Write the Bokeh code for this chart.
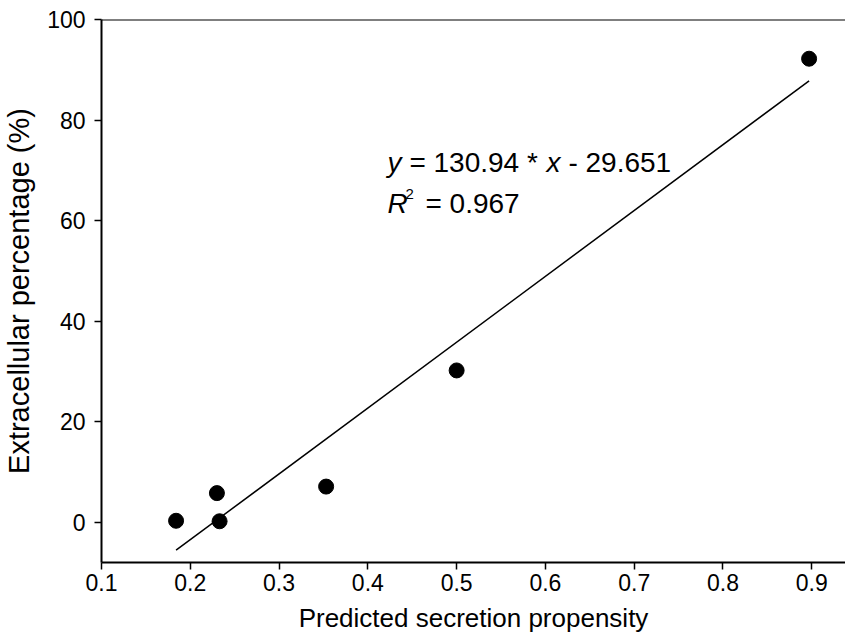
from bokeh.plotting import figure
from bokeh.models import Range1d, Span, Label, FixedTicker
from bokeh.embed import file_html
from bokeh.resources import INLINE

# data
propensity = [0.184, 0.230, 0.233, 0.353, 0.500, 0.897]
extracellular = [0.3, 5.8, 0.2, 7.1, 30.2, 92.2]

slope = 130.94
intercept = -29.651
r_squared = 0.967

x_ticks = [0.1, 0.2, 0.3, 0.4, 0.5, 0.6, 0.7, 0.8, 0.9]
y_ticks = [0, 20, 40, 60, 80, 100]

x_title = "Predicted secretion propensity"
y_title = "Extracellular percentage (%)"

FONT = "Liberation Sans"

p = figure(width=845, height=635, output_backend="svg", toolbar_location=None,
           x_range=Range1d(0.1, 0.938), y_range=Range1d(-8, 100),
           min_border_left=101, min_border_right=0, min_border_top=19, min_border_bottom=73)
p.outline_line_color = None
p.xgrid.visible = False
p.ygrid.visible = False
p.background_fill_color = "white"
p.border_fill_color = "white"

for ax in (p.xaxis[0], p.yaxis[0]):
    ax.axis_line_color = "black"
    ax.axis_line_width = 2
    ax.major_tick_line_color = "black"
    ax.major_tick_line_width = 1.5
    ax.major_tick_out = 7
    ax.major_tick_in = 0
    ax.minor_tick_line_color = None
    ax.major_label_text_font = FONT
    ax.major_label_text_font_size = "23px"
    ax.major_label_text_color = "black"
    ax.axis_label_text_font = FONT
    ax.axis_label_text_font_style = "normal"
    ax.axis_label_text_color = "black"

p.xaxis.ticker = FixedTicker(ticks=x_ticks)
p.yaxis.ticker = FixedTicker(ticks=y_ticks)
p.xaxis.major_label_overrides = {t: f"{t:.1f}" for t in x_ticks}
p.xaxis.axis_label = x_title
p.yaxis.axis_label = y_title
p.xaxis.axis_label_text_font_size = "26px"
p.yaxis.axis_label_text_font_size = "29px"
p.xaxis.major_label_standoff = 4
p.yaxis.major_label_standoff = 9
p.xaxis.axis_label_standoff = 9
p.yaxis.axis_label_standoff = 9

# top border line
p.add_layout(Span(location=100, dimension="width", line_color="black", line_width=2))

# regression line across the data span
x0, x1 = min(propensity), max(propensity)
p.line([x0, x1], [slope * x0 + intercept, slope * x1 + intercept], line_color="black", line_width=1.5)

p.scatter(propensity, extracellular, size=15, marker="circle", fill_color="black", line_color="black")

# equation text
eq_size = "28px"
def lab(x, y, text, style="normal", size=eq_size):
    p.add_layout(Label(x=x, y=y, text=text, text_font=FONT, text_font_size=size,
                       text_font_style=style, text_color="black", text_baseline="alphabetic"))

lab(0.4221, 71.55, "y", "italic")
lab(0.4468, 71.55, f"= {slope} *")
lab(0.6011, 71.55, "x", "italic")
lab(0.6259, 71.55, f"- {abs(intercept)}")
lab(0.4221, 63.4, "R", "italic")
lab(0.4423, 65.2, "2", "normal", "15px")
lab(0.4649, 63.4, f"= {r_squared}")

open("out.html", "w").write(file_html(p, INLINE))
